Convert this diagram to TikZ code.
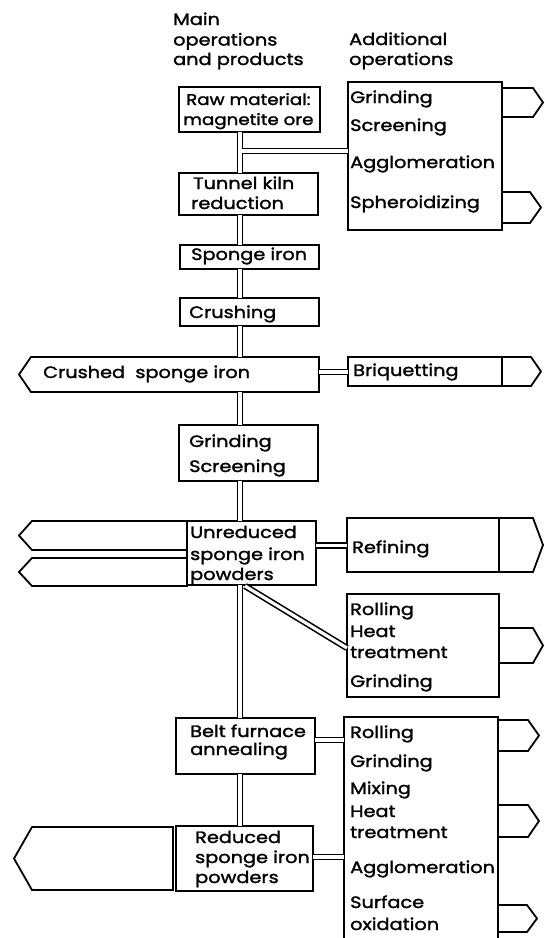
\documentclass[tikz,border=0pt]{standalone}
\usepackage{fontspec}
\setmainfont[FakeStretch=1.17,FakeBold=1.6]{Poppins}
\usetikzlibrary{calc}
\newcommand\mybox[5]{\node[box, minimum width=#4-#2, minimum height=#5-#3] (#1) at (#2,#3) {};}
\newcommand\mytxt[4]{\node[txt] (#1) at (#2,#3) {#4};}
\begin{document}
\begin{tikzpicture}[x=1pt,y=-1pt,
  box/.style={draw, line width=1.8pt, anchor=north west, inner sep=0pt, outer sep=0pt},
  txt/.style={anchor=base west, inner sep=0pt, font=\fontsize{16.5}{20}\selectfont},
  small/.style={font=\fontsize{15.6}{20}\selectfont},
  dbl/.style={line width=1.6pt, double distance=3.2pt, double=white},
  shp/.style={draw, line width=1.8pt, line join=miter},
]
\useasboundingbox (0,0) rectangle (545,938);
\coordinate (spine) at (240,0);

% headers
\mytxt{h1}{173}{25}{Main}
\mytxt{h2}{173}{45.5}{operations}
\mytxt{h3}{173}{65}{and products}
\mytxt{h4}{349}{45}{Additional}
\mytxt{h5}{349}{65}{operations}

% main column boxes
\mybox{raw}{179}{87}{320}{132}
\node[txt, small] (raw1) at (186,105) {Raw material:};
\node[txt, small] (raw2) at (183,125) {magnetite ore};

\mybox{tunnel}{179}{173}{318}{215}
\mytxt{tun1}{193}{189}{Tunnel kiln}
\mytxt{tun2}{191}{209}{reduction}

\mybox{sponge}{180}{245}{319}{269}
\mytxt{spo1}{191}{260}{Sponge iron}

\mybox{crushing}{180}{298}{319}{326}
\mytxt{cru1}{189}{318}{Crushing}

\node[box, draw=none, minimum width=319-31, minimum height=392-357] (crushed) at (31,357) {};
\draw[shp] (crushed.north west) -- (crushed.north east) -- (crushed.south east) -- (crushed.south west) -- ($(crushed.west)+(-12,0)$) -- cycle;
\mytxt{crd1}{43}{378}{Crushed\ \ sponge iron}

\mybox{grind}{179}{425}{318}{481}
\mytxt{gr1}{189}{447}{Grinding}
\mytxt{gr2}{189}{472}{Screening}

\mybox{unred}{187}{521}{316}{585}
\mytxt{un1}{190}{538}{Unreduced}
\mytxt{un2}{190}{560}{sponge iron}
\mytxt{un3}{190}{580}{powders}

\node[box, draw=none, minimum width=187-32, minimum height=550-521] (lp1) at (32,521) {};
\draw[shp] (lp1.north west) -- (lp1.north east) -- (lp1.south east) -- (lp1.south west) -- ($(lp1.west)+(-13,0)$) -- cycle;
\node[box, draw=none, minimum width=187-32, minimum height=586-558] (lp2) at (32,558) {};
\draw[shp] (lp2.north west) -- (lp2.north east) -- (lp2.south east) -- (lp2.south west) -- ($(lp2.west)+(-13,0)$) -- cycle;

\mybox{belt}{176}{718}{315}{774}
\mytxt{be1}{190}{737}{Belt furnace}
\mytxt{be2}{190}{755}{annealing}

\mybox{reduced}{176}{826}{313}{891}
\mytxt{re1}{195}{843}{Reduced}
\mytxt{re2}{195}{863}{sponge iron}
\mytxt{re3}{195}{883}{powders}

\node[box, draw=none, minimum width=173-32, minimum height=890-827] (lp3) at (32,827) {};
\draw[shp] (lp3.north west) -- (lp3.north east) -- (lp3.south east) -- (lp3.south west) -- ($(lp3.west)+(-18,0)$) -- cycle;

% additional operations
\mybox{add1}{348}{82}{502}{230}
\mytxt{a11}{350}{103}{Grinding}
\mytxt{a12}{350}{131}{Screening}
\mytxt{a13}{350}{168}{Agglomeration}
\mytxt{a14}{350}{208}{Spheroidizing}
\draw[shp] (add1.east |- 0,88) -- (533,88) -- (543,102.5) -- (533,117) -- (add1.east |- 0,117);
\draw[shp] (add1.east |- 0,192) -- (530,192) -- (541,207.5) -- (530,223) -- (add1.east |- 0,223);

\mybox{briq}{348}{357}{502}{386}
\mytxt{br1}{353}{376}{Briquetting}
\draw[shp] (briq.north east) -- (531,357) -- (541,371.5) -- (531,386) -- (briq.south east);

\mybox{refin}{347}{518}{499}{572}
\mytxt{rf1}{352}{553}{Refining}
\draw[shp] (refin.north east) -- (533,518) -- (543,545) -- (533,572) -- (refin.south east);

\mybox{roll1}{347}{594}{499}{697}
\mytxt{ro1}{350}{615}{Rolling}
\mytxt{ro2}{350}{637}{Heat}
\mytxt{ro3}{350}{658}{treatment}
\mytxt{ro4}{350}{687}{Grinding}
\draw[shp] (roll1.east |- 0,628) -- (533,628) -- (543,645.5) -- (533,663) -- (roll1.east |- 0,663);

\mybox{big}{344}{717}{498}{945}
\mytxt{b1}{350}{738}{Rolling}
\mytxt{b2}{350}{767}{Grinding}
\mytxt{b3}{350}{794}{Mixing}
\mytxt{b4}{350}{817}{Heat}
\mytxt{b5}{350}{838}{treatment}
\mytxt{b6}{350}{873}{Agglomeration}
\mytxt{b7}{350}{908}{Surface}
\mytxt{b8}{350}{930}{oxidation}
\draw[shp] (big.east |- 0,720) -- (528,720) -- (539,735.5) -- (528,751) -- (big.east |- 0,751);
\draw[shp] (big.east |- 0,805) -- (528,805) -- (539,821) -- (528,837) -- (big.east |- 0,837);
\draw[shp] (big.east |- 0,905) -- (527,905) -- (537,918.5) -- (527,932) -- (big.east |- 0,932);

% spine
\draw[dbl] (raw.south -| spine) -- (tunnel.north -| spine);
\draw[dbl] (tunnel.south -| spine) -- (sponge.north -| spine);
\draw[dbl] (sponge.south -| spine) -- (crushing.north -| spine);
\draw[dbl] (crushing.south -| spine) -- (crushed.north -| spine);
\draw[dbl] (crushed.south -| spine) -- (grind.north -| spine);
\draw[dbl] (grind.south -| spine) -- (unred.north -| spine);
\draw[dbl] (unred.south -| spine) -- (belt.north -| spine);
\draw[dbl] (belt.south -| spine) -- (reduced.north -| spine);

% branches
\coordinate (j1) at (241.6,151);
\draw[dbl] (j1) -- (j1 -| add1.west);
\draw[dbl] (crushed.east |- 0,372) -- (briq.west |- 0,372);
\draw[dbl] (unred.east |- 0,545.5) -- (refin.west |- 0,545.5);
\coordinate (d0) at (245,586);
\draw[dbl] (d0) -- (roll1.west |- 0,648);
\draw[dbl] (belt.east |- 0,740) -- (big.west |- 0,740);
\draw[dbl] (reduced.east |- 0,857) -- (big.west |- 0,857);
\end{tikzpicture}
\end{document}
